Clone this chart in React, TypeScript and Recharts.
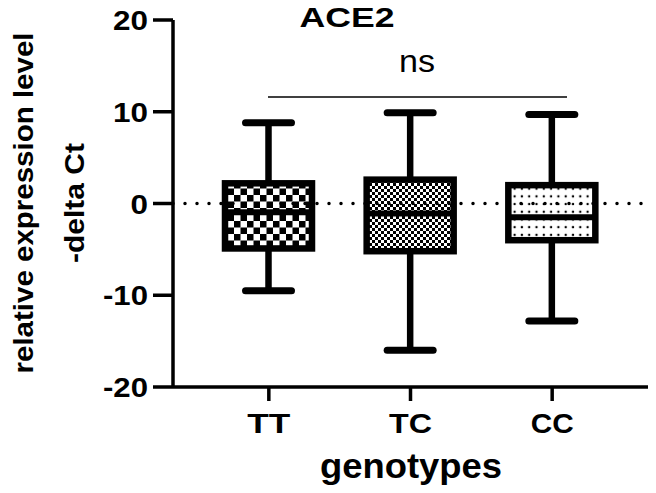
import React from 'react';
import { ComposedChart, Bar, XAxis, YAxis, ReferenceLine } from 'recharts';

const categories = ['TT', 'TC', 'CC'];
const minValues = [-9.5, -16.0, -12.8];
const q1Values = [-4.9, -5.2, -4.0];
const medianValues = [-0.95, -1.1, -1.5];
const q3Values = [2.2, 2.6, 2.0];
const maxValues = [8.8, 9.9, 9.7];
const yTicks = [-20, -10, 0, 10, 20];
const title = 'ACE2';
const significance = 'ns';
const xTitle = 'genotypes';
const yTitleLine1 = 'relative expression level';
const yTitleLine2 = '-delta Ct';

const data = categories.map((cat, i) => ({
  cat,
  min: minValues[i],
  q1: q1Values[i],
  median: medianValues[i],
  q3: q3Values[i],
  max: maxValues[i],
  range: [minValues[i], maxValues[i]],
}));

const patternFor: Record<string, string> = {
  TT: 'url(#checkLarge)',
  TC: 'url(#checkSmall)',
  CC: 'url(#dots)',
};

const FONT = '"Liberation Sans", Arial, Helvetica, sans-serif';

const BoxShape = (props: any) => {
  const { x, y, width, height, payload } = props;
  if (!payload) return null;
  const top = Math.min(y, y + height);
  const bottom = Math.max(y, y + height);
  const span = payload.max - payload.min;
  const py = (v: number) => top + ((payload.max - v) / span) * (bottom - top);
  const cx = x + width / 2;
  const capHalf = 23;
  const yMax = py(payload.max);
  const yMin = py(payload.min);
  const yQ3 = py(payload.q3);
  const yQ1 = py(payload.q1);
  const yMed = py(payload.median);
  return (
    <g>
      <line x1={cx} x2={cx} y1={yMax} y2={yQ3} stroke="#000" strokeWidth={6.5} />
      <line x1={cx} x2={cx} y1={yQ1} y2={yMin} stroke="#000" strokeWidth={6.5} />
      <line x1={cx - capHalf} x2={cx + capHalf} y1={yMax} y2={yMax} stroke="#000" strokeWidth={7} strokeLinecap="round" />
      <line x1={cx - capHalf} x2={cx + capHalf} y1={yMin} y2={yMin} stroke="#000" strokeWidth={7} strokeLinecap="round" />
      <rect x={x} y={yQ3} width={width} height={yQ1 - yQ3} fill={patternFor[payload.cat]} stroke="#000" strokeWidth={6.5} />
      <line x1={x} x2={x + width} y1={yMed} y2={yMed} stroke="#000" strokeWidth={6} />
    </g>
  );
};

const YTick = (props: any) => {
  const { x, y, payload } = props;
  const label = String(payload.value);
  const len = label.replace('-', '').length * 17.5 + (label.startsWith('-') ? 10 : 0);
  return (
    <text x={x - 3} y={y + 10} textAnchor="end" fontFamily={FONT} fontWeight="bold" fontSize={27} fill="#000" textLength={len} lengthAdjust="spacingAndGlyphs">
      {label}
    </text>
  );
};

const XTick = (props: any) => {
  const { x, y, payload } = props;
  return (
    <text x={x} y={y + 29.5} textAnchor="middle" fontFamily={FONT} fontWeight="bold" fontSize={28} fill="#000" textLength={43} lengthAdjust="spacingAndGlyphs">
      {payload.value}
    </text>
  );
};

export default function App() {
  return (
    <div style={{ position: 'absolute', left: 0, top: 0, width: 656, height: 493, background: '#fff' }}>
      <ComposedChart width={656} height={493} data={data} margin={{ top: 20, right: 8, bottom: 46, left: 0 }}>
        <defs>
          <pattern id="checkLarge" x="0" y="0" width="13" height="13" patternUnits="userSpaceOnUse">
            <rect width="13" height="13" fill="#fff" />
            <rect x="0" y="0" width="6.5" height="6.5" fill="#000" />
            <rect x="6.5" y="6.5" width="6.5" height="6.5" fill="#000" />
          </pattern>
          <pattern id="checkSmall" x="0" y="0" width="6" height="6" patternUnits="userSpaceOnUse">
            <rect width="6" height="6" fill="#fff" />
            <rect x="0" y="0" width="3" height="3" fill="#000" />
            <rect x="3" y="3" width="3" height="3" fill="#000" />
          </pattern>
          <pattern id="dots" x="0" y="0" width="7.3" height="7.7" patternUnits="userSpaceOnUse">
            <rect width="7.3" height="7.7" fill="#fff" />
            <circle cx="3.6" cy="3.8" r="1.2" fill="#000" />
          </pattern>
        </defs>
        <XAxis
          dataKey="cat"
          padding={{ left: 25, right: 25 }}
          height={60}
          tickSize={14}
          axisLine={{ stroke: '#000', strokeWidth: 3.5 }}
          tickLine={{ stroke: '#000', strokeWidth: 3.5 }}
          tick={<XTick />}
          interval={0}
        />
        <YAxis
          type="number"
          domain={[-20, 20]}
          ticks={yTicks}
          width={173}
          tickSize={20}
          axisLine={{ stroke: '#000', strokeWidth: 3.5 }}
          tickLine={{ stroke: '#000', strokeWidth: 3.5 }}
          tick={<YTick />}
          interval={0}
        />
        <Bar dataKey="range" barSize={87} shape={<BoxShape />} isAnimationActive={false} />
        <ReferenceLine y={0} stroke="#000" strokeWidth={3.5} strokeDasharray="0 12" strokeLinecap="round" />
      </ComposedChart>
      <svg width={656} height={493} style={{ position: 'absolute', left: 0, top: 0, pointerEvents: 'none' }}>
        <text x={347} y={27} textAnchor="middle" fontFamily={FONT} fontWeight="bold" fontSize={27} fill="#000" textLength={95} lengthAdjust="spacingAndGlyphs">{title}</text>
        <text x={417} y={72} textAnchor="middle" fontFamily={FONT} fontSize={31} fill="#000" textLength={36} lengthAdjust="spacingAndGlyphs">{significance}</text>
        <line x1={268} x2={567} y1={97} y2={97} stroke="#000" strokeWidth={1.5} />
        <text x={411} y={478} textAnchor="middle" fontFamily={FONT} fontWeight="bold" fontSize={35} fill="#000" textLength={182} lengthAdjust="spacingAndGlyphs">{xTitle}</text>
        <text transform="translate(33,203) rotate(-90)" textAnchor="middle" fontFamily={FONT} fontWeight="bold" fontSize={28} fill="#000" textLength={341} lengthAdjust="spacingAndGlyphs">{yTitleLine1}</text>
        <text transform="translate(84,203) rotate(-90)" textAnchor="middle" fontFamily={FONT} fontWeight="bold" fontSize={28} fill="#000" textLength={120} lengthAdjust="spacingAndGlyphs">{yTitleLine2}</text>
      </svg>
    </div>
  );
}
